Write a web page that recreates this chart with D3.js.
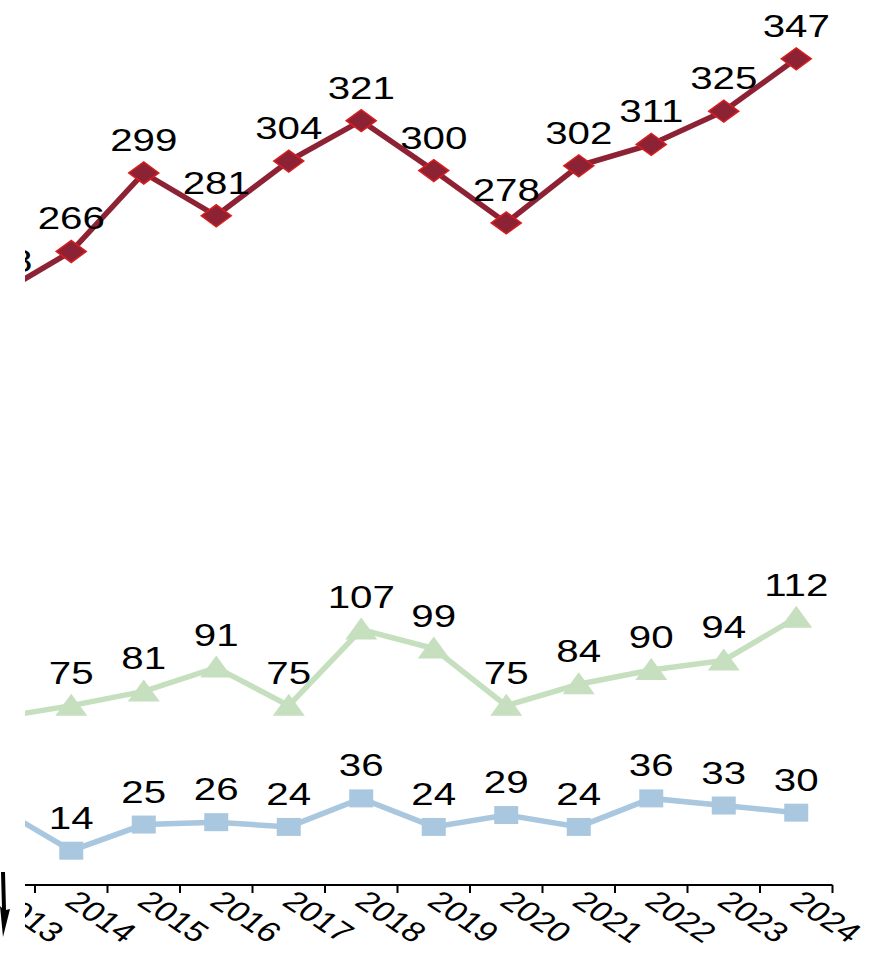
<!DOCTYPE html>
<html>
<head>
<meta charset="utf-8">
<style>
body { margin: 0; background: #fff; }
text { font-family: "Liberation Sans", Arial, sans-serif; fill: #000; }
</style>
</head>
<body>
<svg id="chart" width="871" height="959"></svg>
<script src="https://d3js.org/d3.v7.min.js"></script>
<script>
// data
var years = ["2013","2014","2015","2016","2017","2018","2019","2020","2021","2022","2023","2024"];
var redValues = [248, 266, 299, 281, 304, 321, 300, 278, 302, 311, 325, 347];
var greenValues = [70, 75, 81, 91, 75, 107, 99, 75, 84, 90, 94, 112];
var blueValues = [32, 14, 25, 26, 24, 36, 24, 29, 24, 36, 33, 30];

var svg = d3.select("#chart");
var stretch = 1.26; // text looks horizontally stretched

var x = d3.scaleBand().domain(years).range([-37.5, 832.5]).padding(0);
var y = d3.scaleLinear().domain([0, 350]).range([884, 884 - 350 * 2.378]);
function cx(d) { return x(d) + x.bandwidth() / 2; }

svg.append("defs").append("clipPath").attr("id", "clip")
  .append("rect").attr("x", 25).attr("y", 0).attr("width", 846).attr("height", 959);

var g = svg.append("g").attr("clip-path", "url(#clip)");

// axis
var axisY = 885;
g.append("line")
  .attr("x1", x.range()[0]).attr("x2", x.range()[1])
  .attr("y1", axisY).attr("y2", axisY)
  .attr("stroke", "#000").attr("stroke-width", 2);
var tickPos = years.map(function(d) { return x(d); }).concat([x.range()[1]]);
g.selectAll(".tick").data(tickPos).enter().append("line")
  .attr("x1", function(d) { return d; }).attr("x2", function(d) { return d; })
  .attr("y1", axisY).attr("y2", axisY + 8)
  .attr("stroke", "#000").attr("stroke-width", 2);
g.selectAll(".ticklabel").data(years).enter().append("text")
  .attr("transform", function(d) { return "translate(" + (cx(d) - 8) + "," + 904 + ") scale(" + stretch + ",1) rotate(40)"; })
  .attr("font-size", 28)
  .attr("text-anchor", "start")
  .text(function(d) { return d; });

var series = [
  {values: redValues, color: "#8c2234", fill: "#8c2234", stroke: "#d81e1e", shape: "diamond"},
  {values: greenValues, color: "#c5dfbf", fill: "#c5dfbf", stroke: "none", shape: "triangle"},
  {values: blueValues, color: "#a9c7df", fill: "#a9c7df", stroke: "none", shape: "square"}
];

function markerPath(shape) {
  if (shape === "diamond") return "M-15,0L0,-11L15,0L0,11Z";
  if (shape === "triangle") return "M-16,10L0,-12L16,10Z";
  return "M-12,-9L12,-9L12,9L-12,9Z";
}

var line = d3.line()
  .x(function(d, i) { return cx(years[i]); })
  .y(function(d) { return y(d); });

series.forEach(function(s) {
  g.append("path")
    .attr("d", line(s.values))
    .attr("fill", "none")
    .attr("stroke", s.color)
    .attr("stroke-width", 5.5);
  g.selectAll(null).data(s.values).enter().append("path")
    .attr("transform", function(d, i) { return "translate(" + cx(years[i]) + "," + y(d) + ")"; })
    .attr("d", markerPath(s.shape))
    .attr("fill", s.fill)
    .attr("stroke", s.stroke)
    .attr("stroke-width", 1.5);
  g.selectAll(null).data(s.values).enter().append("text")
    .attr("transform", function(d, i) { return "translate(" + cx(years[i]) + "," + (y(d) - 22) + ") scale(" + stretch + ",1)"; })
    .attr("text-anchor", "middle")
    .attr("font-size", 32)
    .text(function(d) { return d; });
});

// small annotation arrow at bottom left
svg.append("path")
  .attr("d", "M1,872L5,872L6,910L10,909L3,937L0,906L2,908Z")
  .attr("fill", "#000");
</script>
</body>
</html>
